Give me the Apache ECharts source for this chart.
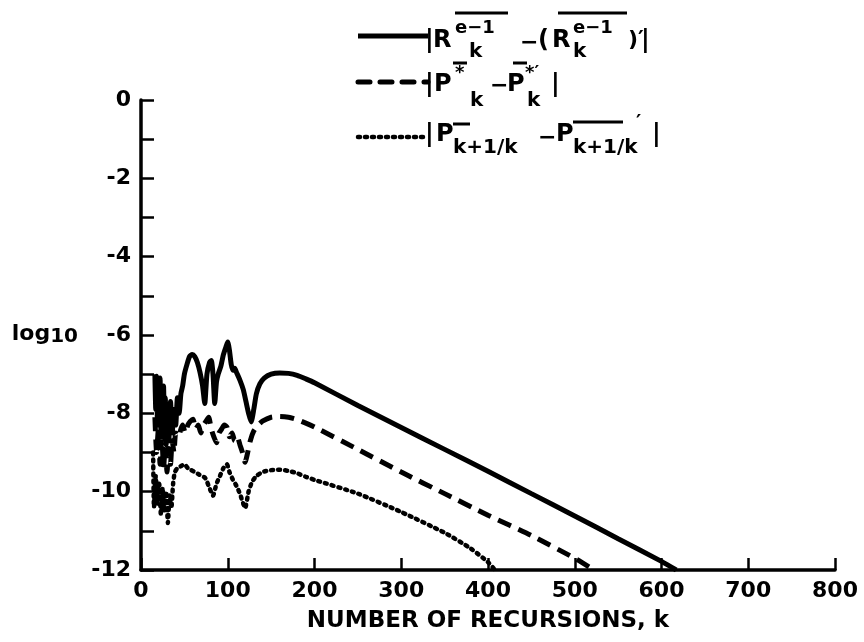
<!DOCTYPE html>
<html>
<head>
<meta charset="utf-8">
<script src="https://cdn.jsdelivr.net/npm/echarts@6/dist/echarts.min.js"></script>
<style>
  html, body { margin: 0; padding: 0; background: #fff; }
  #chart { width: 864px; height: 642px; }
</style>
</head>
<body>
<div id="chart"></div>
<script>
// tick values of both axes
const xTicks = [0, 100, 200, 300, 400, 500, 600, 700, 800]
const yTicks = [-12, -10, -8, -6, -4, -2, 0]

// ||R - R'||  (solid)
const kR = [16, 17, 18, 19, 20, 21, 22, 23, 24, 25, 26, 27, 28, 29, 30, 32, 34, 36, 38, 40, 42, 44, 46, 48, 50,
  53, 56, 59, 62, 65, 68, 71, 73.5, 76, 79, 81, 83, 85, 87, 89, 92, 95, 98, 100, 102, 104, 106, 108, 110,
  114, 118, 121, 124, 127, 130, 133, 137, 142, 150, 160, 170, 180, 190, 200, 250, 300, 350, 400, 450, 500, 550, 600, 617]
const logR = [-7.0, -7.9, -7.05, -8.3, -7.2, -8.1, -7.1, -8.5, -7.4, -8.6, -7.3, -8.2, -7.6, -8.8, -7.8, -8.7, -7.7, -8.5, -7.9, -8.3, -7.6, -8.0, -7.5, -7.3, -7.0,
  -6.75, -6.55, -6.5, -6.55, -6.7, -6.95, -7.3, -7.75, -7.0, -6.7, -6.65, -7.0, -7.75, -7.2, -7.0, -6.8, -6.5, -6.3, -6.18, -6.4, -6.75, -6.9, -6.85, -6.95,
  -7.15, -7.4, -7.7, -8.0, -8.22, -7.9, -7.5, -7.25, -7.1, -7.0, -6.97, -6.98, -7.03, -7.12, -7.22, -7.8, -8.36, -8.92, -9.48, -10.05, -10.62, -11.2, -11.78, -12.0]

// ||P* - P*'||  (dashed)
const kPs = [16, 18, 20, 22, 24, 26, 28, 30, 32, 34, 36, 38, 40, 43, 46, 48, 51, 54, 57, 60, 63, 66, 69, 72, 75, 78, 81, 84, 87, 90,
  93, 96, 99, 102, 105, 108, 111, 114, 117, 120, 123, 126, 130, 135, 140, 150, 160, 170, 180, 190, 200, 250, 300, 350, 400, 450, 500, 522]
const logPs = [-8.1, -9.0, -8.4, -9.3, -8.6, -9.4, -8.8, -9.5, -8.9, -9.3, -8.7, -9.0, -8.5, -8.6, -8.4, -8.3, -8.5, -8.3, -8.2, -8.15, -8.4, -8.3, -8.5, -8.3, -8.2, -8.1, -8.4, -8.6, -8.75, -8.5,
  -8.4, -8.3, -8.35, -8.6, -8.5, -8.7, -8.6, -8.8, -9.0, -9.25, -9.0, -8.7, -8.45, -8.3, -8.2, -8.1, -8.08, -8.1, -8.16, -8.25, -8.35, -8.92, -9.5, -10.05, -10.6, -11.12, -11.7, -12.0]

// ||P(k+1/k) - P'(k+1/k)||  (dotted)
const kPp = [14, 15, 17, 19, 21, 23, 25, 27, 29, 31, 33, 35, 37, 39, 42, 46, 50, 54, 58, 62, 66, 70, 74, 78, 83, 87, 91, 95, 99,
  102, 106, 110, 114, 117, 120, 124, 128, 133, 140, 150, 160, 170, 180, 190, 200, 250, 300, 350, 380, 400, 408]
const logPp = [-9.0, -10.4, -9.6, -10.3, -9.8, -10.6, -9.9, -10.5, -10.0, -10.8, -10.1, -10.4, -9.8, -9.5, -9.4, -9.35, -9.3, -9.4, -9.45, -9.5, -9.55, -9.6, -9.65, -9.85, -10.1, -9.8, -9.6, -9.4, -9.3,
  -9.5, -9.7, -9.85, -10.05, -10.25, -10.42, -10.0, -9.75, -9.6, -9.5, -9.45, -9.44, -9.47, -9.53, -9.62, -9.7, -10.05, -10.52, -11.05, -11.45, -11.8, -12.0]

const pairs = (ks, vs) => ks.map((k, i) => [k, vs[i]])
const font = size => 'bold ' + size + 'px "DejaVu Sans"'
const boldText = size => ({ color: '#000', fontFamily: 'DejaVu Sans', fontWeight: 'bold', fontSize: size })

// small helpers for the hand-set legend
const txt = (x, y, text, size) => ({
  type: 'text', x: x, y: y,
  style: { text: text, font: font(size), fill: '#000', align: 'left', verticalAlign: 'middle',
    textAlign: 'left', textVerticalAlign: 'middle' }
})
const bar = (x1, x2, y) => ({
  type: 'line', shape: { x1: x1, y1: y, x2: x2, y2: y },
  style: { stroke: '#000', lineWidth: 3 }
})
const sample = (y, dash, width) => ({
  type: 'line', shape: { x1: 358, y1: y, x2: 428, y2: y },
  style: { stroke: '#000', lineWidth: width, lineDash: dash, lineCap: dash ? 'round' : 'butt' }
})

const legend = [
  sample(36, null, 5),
  txt(425, 41, '|', 24), txt(433, 41, 'R', 24), txt(455, 28, 'e−1', 18), txt(469, 52, 'k', 20),
  txt(520, 43, '−', 22), txt(538, 41, '(', 24), txt(552, 41, 'R', 24), txt(573, 28, 'e−1', 18), txt(573, 52, 'k', 20),
  txt(628, 40, ')′', 22), txt(641, 41, '|', 24),
  bar(455, 508, 13), bar(558, 627, 13),

  sample(82, [12, 10], 5),
  txt(425, 85, '|', 24), txt(434, 85, 'P', 24), txt(455, 73, '*', 18), txt(470, 101, 'k', 20),
  txt(490, 86, '−', 22), txt(507, 85, 'P', 24), txt(525, 73, '*′', 18), txt(527, 101, 'k', 20),
  txt(551, 85, '|', 24),
  bar(453, 467, 63), bar(513, 527, 63),

  sample(137, [2, 5], 4.5),
  txt(425, 135, '|', 24), txt(436, 135, 'P', 24), txt(453, 148, 'k+1/k', 20),
  txt(538, 138, '−', 22), txt(556, 135, 'P', 24), txt(573, 148, 'k+1/k', 20),
  txt(636, 123, '′', 20), txt(652, 135, '|', 24),
  bar(453, 470, 124), bar(573, 623, 122)
]

const chart = echarts.init(document.getElementById('chart'))

const option = {
  animation: false,
  backgroundColor: '#fff',
  grid: { left: 141, right: 29, top: 100, bottom: 72 },
  xAxis: {
    type: 'value',
    min: xTicks[0], max: xTicks[xTicks.length - 1], interval: xTicks[1] - xTicks[0],
    axisLine: { onZero: false, lineStyle: { color: '#000', width: 3.5 } },
    axisTick: { inside: true, length: 12, lineStyle: { color: '#000', width: 2.5 } },
    axisLabel: Object.assign(boldText(22), { margin: 10 }),
    splitLine: { show: false },
    name: 'NUMBER OF RECURSIONS, k',
    nameLocation: 'middle',
    nameGap: 40,
    nameTextStyle: boldText(23)
  },
  yAxis: {
    type: 'value',
    min: yTicks[0], max: yTicks[yTicks.length - 1], interval: yTicks[1] - yTicks[0],
    axisLine: { show: true, onZero: false, lineStyle: { color: '#000', width: 3.5 } },
    axisTick: { show: true, inside: true, length: 13, lineStyle: { color: '#000', width: 2.5 } },
    minorTick: { show: true, splitNumber: 2, length: 13, lineStyle: { color: '#000', width: 2.5 } },
    axisLabel: Object.assign(boldText(22), { margin: 10 }),
    splitLine: { show: false },
    name: '{a|log}{b|10}',
    nameLocation: 'middle',
    nameRotate: 0,
    nameGap: 63,
    nameTextStyle: {
      rich: {
        a: Object.assign(boldText(22), { lineHeight: 24, verticalAlign: 'top' }),
        b: Object.assign(boldText(20), { lineHeight: 20, verticalAlign: 'bottom', padding: [12, 0, 0, 0] })
      }
    }
  },
  series: [
    {
      type: 'line', data: pairs(kR, logR), showSymbol: false, smooth: 0.2,
      lineStyle: { color: '#000', width: 5 }
    },
    {
      type: 'line', data: pairs(kPs, logPs), showSymbol: false, smooth: 0.2,
      lineStyle: { color: '#000', width: 5, type: [14, 8] }
    },
    {
      type: 'line', data: pairs(kPp, logPp), showSymbol: false, smooth: 0.2,
      lineStyle: { color: '#000', width: 4.5, type: [2, 5], cap: 'round' }
    }
  ],
  graphic: legend
}

chart.setOption(option)
</script>
</body>
</html>
